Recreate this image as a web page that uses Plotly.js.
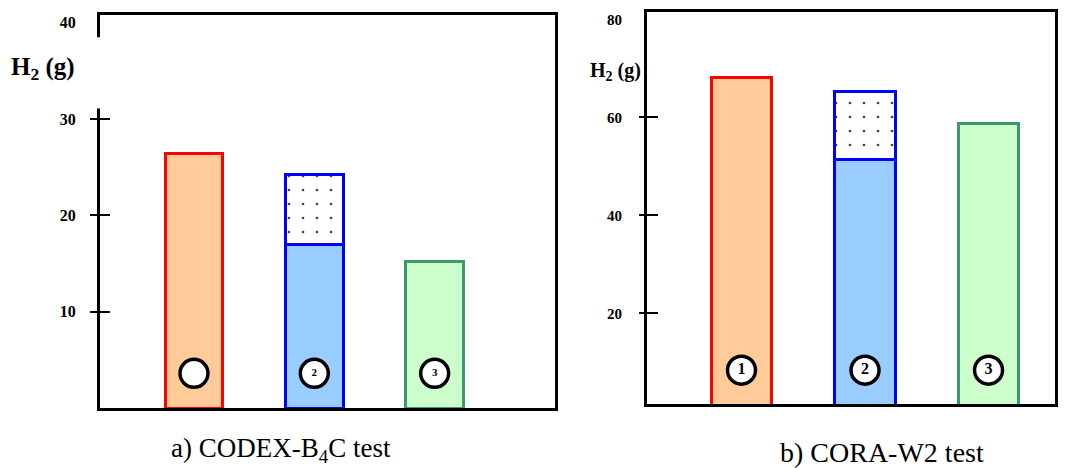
<!DOCTYPE html>
<html>
<head>
<meta charset="utf-8">
<script src="https://cdn.plot.ly/plotly-3.0.1.min.js"></script>
<style>html,body{margin:0;padding:0;background:#fff;}#chart{width:1070px;height:468px;}</style>
</head>
<body>
<div id="chart"></div>
<script>
// ---- data ----
const testIds = [0, 1, 2];
const circleLabelsA = ['', '2', '3'];
const circleLabelsB = ['1', '2', '3'];
// a) CODEX-B4C : H2 (g)
const codexMain = [26.4, 17.0, 15.2];
const codexExtra = [null, 7.2, null];
// b) CORA-W2 : H2 (g)
const coraMain = [68.2, 51.3, 58.8];
const coraExtra = [null, 13.9, null];
const tickValsA = [10, 20, 30, 40];
const tickMarksA = [10, 20, 30];
const tickValsB = [20, 40, 60, 80];
const tickMarksB = [20, 40, 60];

// ---- styles ----
const SERIF = 'Liberation Serif, Times New Roman, DejaVu Serif, serif';
const fills = ['#ffcc99', '#99ccff', '#ccffcc'];
const edges = ['#ff0000', '#0000ff', '#3a9a6a'];
const rangeA = [0, 40.8];
const rangeB = [1.5, 81.5];
const circleYA = 3.6;
const circleYB = 8.4;

function barTraces(main, extra, xa, ya, w) {
  return [
    {type: 'bar', x: testIds, y: main, xaxis: xa, yaxis: ya, width: w,
     marker: {color: fills, line: {color: edges, width: 3}}, hoverinfo: 'skip'},
    {type: 'bar', x: testIds, y: extra, xaxis: xa, yaxis: ya, width: w,
     marker: {color: 'white', line: {color: '#0000ff', width: 3},
       pattern: {shape: '.', fgcolor: '#444', bgcolor: 'white', size: 14, solidity: 0.03}},
     hoverinfo: 'skip'}
  ];
}
function circleTrace(labels, yv, xa, ya, fs) {
  return {type: 'scatter', mode: 'markers+text', x: testIds, y: testIds.map(() => yv),
    xaxis: xa, yaxis: ya, text: labels, textposition: 'middle center',
    textfont: {family: SERIF, size: fs, color: 'black', weight: 'bold'},
    marker: {size: 28, color: 'white', line: {color: 'black', width: 3.5}},
    cliponaxis: false, hoverinfo: 'skip'};
}
function emptyTrace(xa, ya) {
  return {type: 'scatter', mode: 'markers', x: [], y: [], xaxis: xa, yaxis: ya, hoverinfo: 'skip'};
}

const data = [
  ...barTraces(codexMain, codexExtra, 'x', 'y', 0.48),
  circleTrace(circleLabelsA, circleYA, 'x', 'y', 11),
  ...barTraces(coraMain, coraExtra, 'x2', 'y2', 0.49),
  circleTrace(circleLabelsB, circleYB, 'x2', 'y2', 16),
  emptyTrace('x', 'y3'), emptyTrace('x', 'y5'),
  emptyTrace('x2', 'y4'), emptyTrace('x2', 'y6')
];

function xAxis(domain, range, anchor) {
  return {domain: domain, range: range, anchor: anchor, showline: true, mirror: true,
    linewidth: 3, linecolor: 'black', ticks: '', showticklabels: false,
    showgrid: false, zeroline: false, fixedrange: true};
}
function labelAxis(domain, range, anchor, vals, fs, standoff) {
  return {domain: domain, range: range, anchor: anchor, tickmode: 'array', tickvals: vals,
    ticktext: vals.map(String), ticks: '', showline: true, mirror: true, linewidth: 3,
    linecolor: 'black', showgrid: false, zeroline: false, ticklabelstandoff: standoff,
    tickfont: {family: SERIF, size: fs, color: 'black', weight: 'bold'}, fixedrange: true};
}
function tickAxis(over, range, anchor, vals, dir, len) {
  return {overlaying: over, anchor: anchor, range: range, tickmode: 'array', tickvals: vals,
    ticks: dir, ticklen: len, tickwidth: 2, tickcolor: 'black', showticklabels: false,
    showgrid: false, zeroline: false, showline: false, fixedrange: true};
}

const W = 1070, H = 468;
const ann = (x, y, text, size, bold) => ({xref: 'paper', yref: 'paper', x: x / W, y: (H - y) / H,
  xanchor: 'center', yanchor: 'middle', showarrow: false, text: text,
  font: {family: SERIF, size: size, color: 'black', weight: bold ? 'bold' : 'normal'}});

const layout = {
  width: W, height: H, margin: {l: 0, r: 0, t: 0, b: 0},
  paper_bgcolor: 'white', plot_bgcolor: 'white', showlegend: false, barmode: 'stack',
  xaxis: xAxis([100 / W, 555 / W], [-0.781, 3.0], 'y'),
  xaxis2: xAxis([647 / W, 1055 / W], [-0.765, 2.538], 'y2'),
  yaxis: labelAxis([(H - 408) / H, (H - 15) / H], rangeA, 'x', tickValsA, 16, 18),
  yaxis2: labelAxis([(H - 404) / H, (H - 12) / H], rangeB, 'x2', tickValsB, 15, 19),
  yaxis3: tickAxis('y', rangeA, 'x', tickMarksA, 'outside', 9),
  yaxis5: tickAxis('y', rangeA, 'x', tickMarksA, 'inside', 10),
  yaxis4: tickAxis('y2', rangeB, 'x2', tickMarksB, 'outside', 7),
  yaxis6: tickAxis('y2', rangeB, 'x2', tickMarksB, 'inside', 11),
  shapes: [
    {type: 'rect', xref: 'x domain', yref: 'y', x0: -0.02, x1: 0.02, y0: 31.1, y1: 38.5,
     fillcolor: 'white', line: {width: 0}, layer: 'above'}
  ],
  annotations: [
    ann(43, 68, 'H<sub>2</sub> (g)', 25, true),
    ann(615, 71, 'H<sub>2</sub> (g)', 20, true),
    ann(281, 450, 'a) CODEX-B<sub>4</sub>C test', 27, false),
    ann(882, 452, 'b) CORA-W2 test', 28, false)
  ]
};

Plotly.newPlot('chart', data, layout, {staticPlot: true, displayModeBar: false});
</script>
</body>
</html>
